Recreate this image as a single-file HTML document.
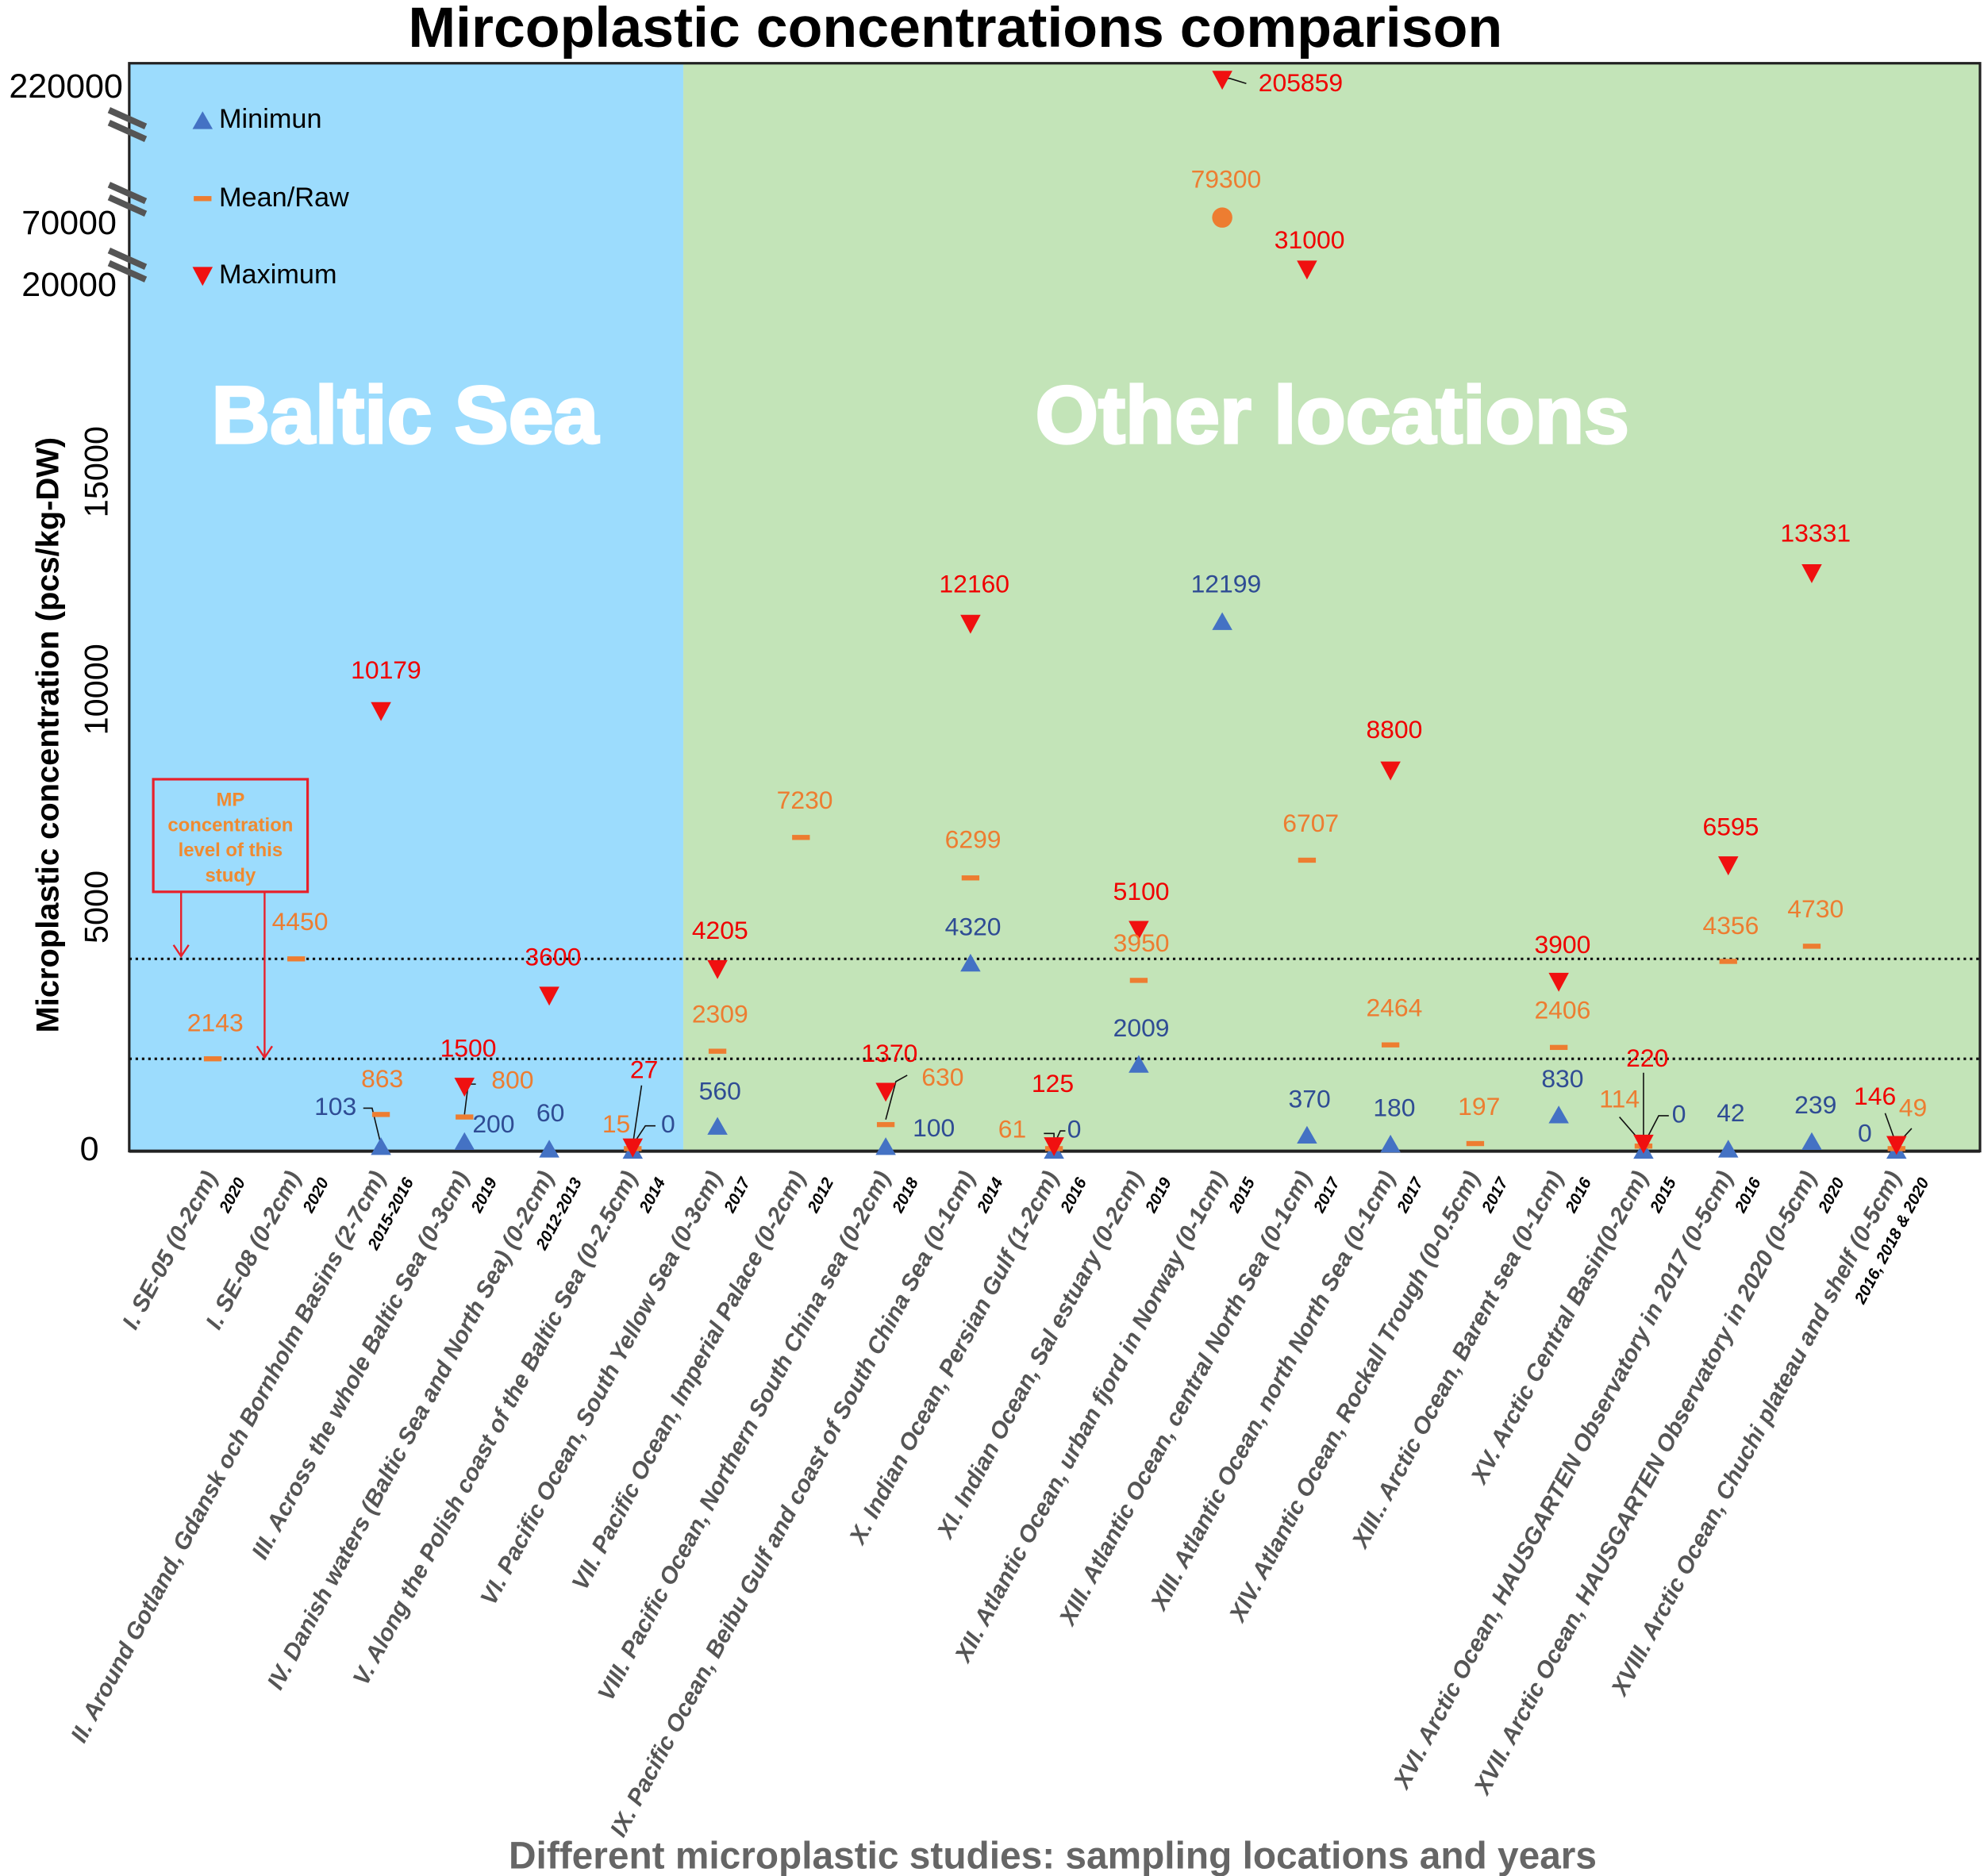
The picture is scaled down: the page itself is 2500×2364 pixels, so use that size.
<!DOCTYPE html>
<html><head><meta charset="utf-8"><style>
html,body{margin:0;padding:0;background:#fff}
svg{display:block}
text{font-family:"Liberation Sans",sans-serif}
.v{font-size:20px;text-anchor:middle;dominant-baseline:middle}
.b{fill:#2F4C94}.o{fill:#ED7D31}.r{fill:#F00000}
.xl{font-size:18.6px;font-weight:bold;font-style:italic;fill:#555;text-anchor:end}
.yr{font-family:"Liberation Serif",serif;font-size:13px;font-weight:bold;font-style:italic;fill:#000;text-anchor:end}
</style></head><body>
<svg width="2500" height="2364" viewBox="0 0 1568 1483" xmlns="http://www.w3.org/2000/svg">
<defs>
<polygon id="up" points="0,-8 -8,6 8,6" fill="#4472C4"/>
<polygon id="dn" points="-8,-7 8,-7 0,8" fill="#F01010"/>
<rect id="ds" x="-7" y="-2" width="14" height="4" fill="#ED7D31"/>
</defs>
<text x="755" y="37" font-size="45" font-weight="bold" text-anchor="middle">Mircoplastic concentrations comparison</text>
<rect x="102" y="50" width="438" height="860" fill="#9CDCFD"/>
<rect x="540" y="50" width="1025" height="860" fill="#C3E4B8"/>
<rect x="102" y="50" width="1463" height="860" fill="none" stroke="#222" stroke-width="2"/>
<line x1="102" y1="910" x2="1565" y2="910" stroke="#222" stroke-width="2.5"/>
<text x="320" y="350" font-size="64" font-weight="bold" fill="#fff" stroke="#fff" stroke-width="2" text-anchor="middle">Baltic Sea</text>
<text x="1053" y="350" font-size="64" font-weight="bold" fill="#fff" stroke="#fff" stroke-width="2" text-anchor="middle">Other locations</text>
<line x1="102" y1="758" x2="1565" y2="758" stroke="#111" stroke-width="2" stroke-dasharray="2,3"/>
<line x1="102" y1="837" x2="1565" y2="837" stroke="#111" stroke-width="2" stroke-dasharray="2,3"/>
<g font-size="27" text-anchor="end" dominant-baseline="middle">
<text x="97" y="70">220000</text><text x="92" y="178">70000</text><text x="92" y="227">20000</text><text x="78" y="910">0</text>
</g>
<g font-size="26" text-anchor="middle">
<text transform="translate(85,717) rotate(-90)">5000</text>
<text transform="translate(85,545) rotate(-90)">10000</text>
<text transform="translate(85,373) rotate(-90)">15000</text>
<text transform="translate(46,581) rotate(-90)" font-size="25" font-weight="bold">Microplastic concentration (pcs/kg-DW)</text>
</g>
<g stroke="#555" stroke-width="5">
<line x1="86" y1="87" x2="115" y2="100"/><line x1="86" y1="97" x2="115" y2="110"/>
<line x1="86" y1="146" x2="115" y2="159"/><line x1="86" y1="156" x2="115" y2="169"/>
<line x1="86" y1="198" x2="115" y2="211"/><line x1="86" y1="208" x2="115" y2="221"/>
</g>
<use href="#up" x="160" y="96"/><text x="173" y="101" font-size="21.5">Minimun</text>
<use href="#ds" x="160" y="157"/><text x="173" y="163" font-size="21.5">Mean/Raw</text>
<use href="#dn" x="160" y="218"/><text x="173" y="224" font-size="21.5">Maximum</text>
<rect x="121" y="616" width="122" height="89" fill="none" stroke="#E8202A" stroke-width="2"/>
<g font-size="15" font-weight="bold" fill="#F08A30" text-anchor="middle">
<text x="182" y="637">MP</text><text x="182" y="657">concentration</text><text x="182" y="677">level of this</text><text x="182" y="697">study</text></g>
<g stroke="#E8202A" stroke-width="1.5" fill="none">
<line x1="143" y1="705" x2="143" y2="756"/><polyline points="137,747 143,756 149,747"/>
<line x1="209" y1="705" x2="209" y2="836"/><polyline points="203,827 209,836 215,827"/>
</g>
<g stroke="#111" stroke-width="1" fill="none">
<polyline points="287,876 294,876 301,905"/>
<polyline points="376,857 370,857 367,881"/>
<polyline points="518,890 510,890 500,905"/>
<line x1="507" y1="858" x2="500" y2="905"/>
<polyline points="717,850 708,855 700,885"/>
<polyline points="825,896 833,896 833,905"/>
<polyline points="842,894 838,894 833,905"/>
<polyline points="985,66 972,62 966,62"/>
<line x1="1299" y1="848" x2="1299" y2="905"/>
<line x1="1280" y1="883" x2="1299" y2="905"/>
<polyline points="1319,882 1311,882 1299,905"/>
<line x1="1490" y1="880" x2="1499" y2="905"/>
<line x1="1511" y1="892" x2="1499" y2="905"/>
</g>
<use href="#ds" x="168" y="837"/>
<use href="#ds" x="234" y="758"/>
<use href="#dn" x="301" y="562"/><use href="#ds" x="301" y="881"/><use href="#up" x="301" y="907"/>
<use href="#dn" x="367" y="859"/><use href="#ds" x="367" y="883"/><use href="#up" x="367" y="903"/>
<use href="#dn" x="434" y="787"/><use href="#up" x="434" y="909"/>
<use href="#up" x="500" y="910"/><use href="#ds" x="500" y="908"/><use href="#dn" x="500" y="907"/>
<use href="#dn" x="567" y="766"/><use href="#ds" x="567" y="831"/><use href="#up" x="567" y="891"/>
<use href="#ds" x="633" y="662"/>
<use href="#dn" x="700" y="863"/><use href="#ds" x="700" y="889"/><use href="#up" x="700" y="907"/>
<use href="#dn" x="767" y="493"/><use href="#ds" x="767" y="694"/><use href="#up" x="767" y="762"/>
<use href="#up" x="833" y="910"/><use href="#ds" x="833" y="908"/><use href="#dn" x="833" y="906"/>
<use href="#dn" x="900" y="735"/><use href="#ds" x="900" y="775"/><use href="#up" x="900" y="842"/>
<use href="#dn" x="966" y="63"/><circle cx="966" cy="172" r="8" fill="#ED7D31"/><use href="#up" x="966" y="492"/>
<use href="#dn" x="1033" y="213"/><use href="#ds" x="1033" y="680"/><use href="#up" x="1033" y="898"/>
<use href="#dn" x="1099" y="609"/><use href="#ds" x="1099" y="826"/><use href="#up" x="1099" y="905"/>
<use href="#ds" x="1166" y="904"/>
<use href="#dn" x="1232" y="776"/><use href="#ds" x="1232" y="828"/><use href="#up" x="1232" y="882"/>
<use href="#up" x="1299" y="910"/><use href="#ds" x="1299" y="906"/><use href="#dn" x="1299" y="904"/>
<use href="#dn" x="1366" y="684"/><use href="#ds" x="1366" y="760"/><use href="#up" x="1366" y="909"/>
<use href="#dn" x="1432" y="453"/><use href="#ds" x="1432" y="748"/><use href="#up" x="1432" y="903"/>
<use href="#up" x="1499" y="910"/><use href="#ds" x="1499" y="908"/><use href="#dn" x="1499" y="905"/>
<g class="v">
<text class="o" x="170" y="810">2143</text>
<text class="o" x="237" y="730">4450</text>
<text class="b" x="265" y="876">103</text><text class="o" x="302" y="854">863</text><text class="r" x="305" y="531">10179</text>
<text class="b" x="390" y="890">200</text><text class="o" x="405" y="855">800</text><text class="r" x="370" y="830">1500</text>
<text class="b" x="435" y="881">60</text><text class="r" x="437" y="758">3600</text>
<text class="o" x="487" y="890">15</text><text class="b" x="528" y="890">0</text><text class="r" x="509" y="847">27</text>
<text class="b" x="569" y="864">560</text><text class="o" x="569" y="803">2309</text><text class="r" x="569" y="737">4205</text>
<text class="o" x="636" y="634">7230</text>
<text class="b" x="738" y="893">100</text><text class="o" x="745" y="853">630</text><text class="r" x="703" y="834">1370</text>
<text class="b" x="769" y="734">4320</text><text class="o" x="769" y="665">6299</text><text class="r" x="770" y="463">12160</text>
<text class="o" x="800" y="894">61</text><text class="b" x="849" y="894">0</text><text class="r" x="832" y="858">125</text>
<text class="b" x="902" y="814">2009</text><text class="o" x="902" y="747">3950</text><text class="r" x="902" y="706">5100</text>
<text class="b" x="969" y="463">12199</text><text class="o" x="969" y="143">79300</text><text class="r" x="1028" y="67">205859</text>
<text class="b" x="1035" y="870">370</text><text class="o" x="1036" y="652">6707</text><text class="r" x="1035" y="191">31000</text>
<text class="b" x="1102" y="877">180</text><text class="o" x="1102" y="798">2464</text><text class="r" x="1102" y="578">8800</text>
<text class="o" x="1169" y="876">197</text>
<text class="b" x="1235" y="854">830</text><text class="o" x="1235" y="800">2406</text><text class="r" x="1235" y="748">3900</text>
<text class="o" x="1280" y="870">114</text><text class="r" x="1302" y="838">220</text><text class="b" x="1327" y="882">0</text>
<text class="b" x="1368" y="881">42</text><text class="o" x="1368" y="733">4356</text><text class="r" x="1368" y="655">6595</text>
<text class="b" x="1435" y="875">239</text><text class="o" x="1435" y="720">4730</text><text class="r" x="1435" y="423">13331</text>
<text class="b" x="1474" y="897">0</text><text class="o" x="1512" y="877">49</text><text class="r" x="1482" y="868">146</text>
</g>
<g class="xl">
<text transform="translate(172,930) rotate(-62)">I. SE-05 (0-2cm)</text>
<text transform="translate(238,930) rotate(-62)">I. SE-08 (0-2cm)</text>
<text transform="translate(305,930) rotate(-62)">II. Around Gotland, Gdansk och Bornholm Basins (2-7cm)</text>
<text transform="translate(371,930) rotate(-62)">III. Across the whole Baltic Sea (0-3cm)</text>
<text transform="translate(438,930) rotate(-62)">IV. Danish waters (Baltic Sea and North Sea) (0-2cm)</text>
<text transform="translate(504,930) rotate(-62)">V. Along the Polish coast of the Baltic Sea (0-2.5cm)</text>
<text transform="translate(571,930) rotate(-62)">VI. Pacific Ocean, South Yellow Sea (0-3cm)</text>
<text transform="translate(637,930) rotate(-62)">VII. Pacific Ocean, Imperial Palace (0-2cm)</text>
<text transform="translate(704,930) rotate(-62)">VIII. Pacific Ocean, Northern South China sea (0-2cm)</text>
<text transform="translate(771,930) rotate(-62)">IX. Pacific Ocean, Beibu Gulf and coast of South China Sea (0-1cm)</text>
<text transform="translate(837,930) rotate(-62)">X. Indian Ocean, Persian Gulf (1-2cm)</text>
<text transform="translate(904,930) rotate(-62)">XI. Indian Ocean, Sal estuary (0-2cm)</text>
<text transform="translate(970,930) rotate(-62)">XII. Atlantic Ocean, urban fjord in Norway (0-1cm)</text>
<text transform="translate(1037,930) rotate(-62)">XIII. Atlantic Ocean, central North Sea (0-1cm)</text>
<text transform="translate(1103,930) rotate(-62)">XIII. Atlantic Ocean, north North Sea (0-1cm)</text>
<text transform="translate(1170,930) rotate(-62)">XIV. Atlantic Ocean, Rockall Trough (0-0.5cm)</text>
<text transform="translate(1236,930) rotate(-62)">XIII.. Arctic Ocean, Barent sea (0-1cm)</text>
<text transform="translate(1303,930) rotate(-62)">XV. Arctic Central Basin(0-2cm)</text>
<text transform="translate(1370,930) rotate(-62)">XVI. Arctic Ocean,  HAUSGARTEN Observatory in 2017 (0-5cm)</text>
<text transform="translate(1436,930) rotate(-62)">XVII. Arctic Ocean,  HAUSGARTEN Observatory in 2020 (0-5cm)</text>
<text transform="translate(1503,930) rotate(-62)">XVIII. Arctic Ocean, Chuchi plateau and shelf (0-5cm)</text>
</g>
<g class="yr">
<text transform="translate(194,934) rotate(-62)">2020</text>
<text transform="translate(260,934) rotate(-62)">2020</text>
<text transform="translate(327,934) rotate(-62)">2015-2016</text>
<text transform="translate(393,934) rotate(-62)">2019</text>
<text transform="translate(460,934) rotate(-62)">2012-2013</text>
<text transform="translate(526,934) rotate(-62)">2014</text>
<text transform="translate(593,934) rotate(-62)">2017</text>
<text transform="translate(659,934) rotate(-62)">2012</text>
<text transform="translate(726,934) rotate(-62)">2018</text>
<text transform="translate(793,934) rotate(-62)">2014</text>
<text transform="translate(859,934) rotate(-62)">2016</text>
<text transform="translate(926,934) rotate(-62)">2019</text>
<text transform="translate(992,934) rotate(-62)">2015</text>
<text transform="translate(1059,934) rotate(-62)">2017</text>
<text transform="translate(1125,934) rotate(-62)">2017</text>
<text transform="translate(1192,934) rotate(-62)">2017</text>
<text transform="translate(1258,934) rotate(-62)">2016</text>
<text transform="translate(1325,934) rotate(-62)">2015</text>
<text transform="translate(1392,934) rotate(-62)">2016</text>
<text transform="translate(1458,934) rotate(-62)">2020</text>
<text transform="translate(1525,934) rotate(-62)">2016, 2018 &amp; 2020</text>
</g>
<text x="832" y="1477" font-size="30" font-weight="bold" fill="#666" text-anchor="middle">Different microplastic studies: sampling locations and years</text>
</svg>
</body></html>
